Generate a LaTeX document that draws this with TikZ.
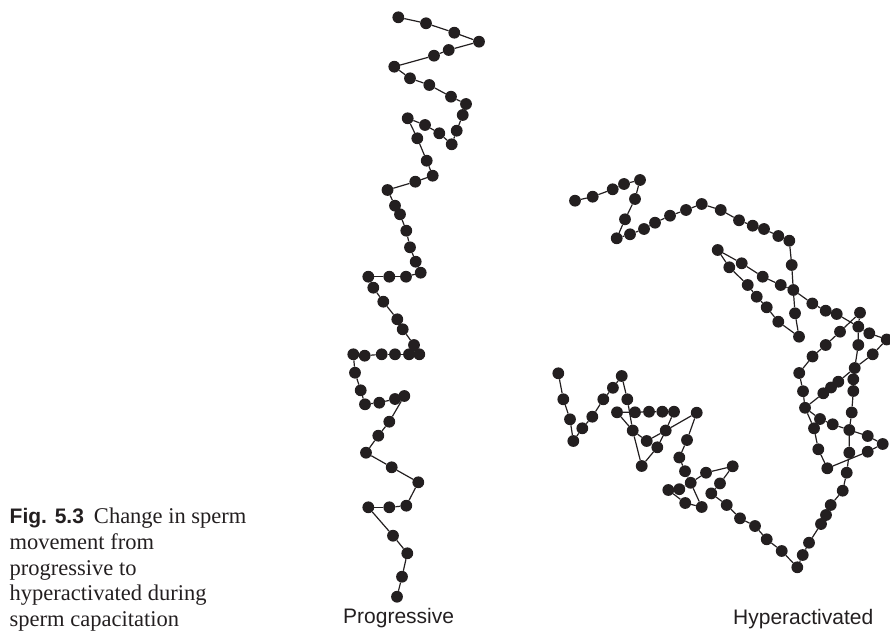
\documentclass[tikz,border=0pt]{standalone}
\usepackage{fontspec}
\setmainfont{Liberation Serif}
\newfontfamily\labfont{Liberation Sans}
\pgfdeclarelayer{bg}
\pgfsetlayers{bg,main}
\definecolor{ink}{HTML}{231F20}
\begin{document}
\begin{tikzpicture}[x=1pt,y=-1pt,
  dot/.style={circle,fill=ink,inner sep=0pt,minimum size=11.8pt},
  trk/.style={draw=ink,line width=1.2pt},
  captxt/.style={anchor=base west,inner sep=0pt,text=ink,font=\fontsize{22.5}{25.7}\selectfont},
  lab/.style={anchor=base west,inner sep=0pt,text=ink,font=\labfont\fontsize{21}{24}\selectfont}]
\useasboundingbox (0,0) rectangle (890,631);
% progressive track
\foreach \n/\x/\y in {P1/398.3/17.3,P2/426/23.3,P3/454.3/32.7,P4/479/41.7,P5/448.7/50,P6/434/55.7,P7/394.3/66.7,P8/410/78.3,P9/429.3/85,P10/451/96.7,
P11/466/104,P12/462.7/115,P13/456.7/130.7,P14/451.7/144.3,P15/439.3/133.3,P16/425/125,P17/407.7/118.3,P18/417.3/138.3,P19/426.7/160.7,P20/432.7/175.7,
P21/415.3/181.7,P22/387.5/190,P23/395/205.7,P24/400/214.3,P25/406.3/230.7,P26/410/247.3,P27/415.7/261.7,P28/420.7/272.7,P29/406/276.7,P30/389.3/276.7,
P31/368.3/276.7,P32/373.3/287.7,P33/383.3/301.7,P34/397.3/319.3,P35/402.7/329.3,P36/414/345,P37/419.3/354.3,P38/409/354.3,P39/395/354.3,P40/381.7/354.3,
P41/364.7/355.7,P42/353.3/354.3,P43/355/372.7,P44/360.7/390.3,P45/365/404.3,P46/379.3/402.7,P47/395/399,P48/404.3/396,P49/389.3/421.7,P50/378.3/435.7,
P51/366/452.7,P52/391.7/467.3,P53/418.3/482.3,P54/406.3/505.7,P55/389.3/507.3,P56/368.3/507.3,P57/393/535.7,P58/407.3/553.3,P59/402/576.7,P60/397/596.7}
  \node[dot] (\n) at (\x,\y) {};
% hyperactivated track
\foreach \n/\x/\y in {h1/575/200.7,h2/592.7/196.7,h3/612.7/189.3,h4/624/184,h5/640/180,h6/635/199,h7/625/219.3,h8/616.7/238.3,h9/630/234.3,h10/644/229,
h11/655/222.7,h12/670/215.7,h13/686/210,h14/701.7/204,h15/720.7/210,h16/739/220.3,h17/752.7/225.7,h18/764/229,h19/778.3/236,h20/789.3/240.7,
h21/791.7/265,h22/793.3/290,h23/795/313.3,h24/799/336.7,h25/778.3/321.7,h26/766.7/307.3,h27/756.7/296.7,h28/747.7/285,h29/729.3/267.3,h30/717.7/250,
h31/741.7/263.3,h32/762.7/276.7,h33/780.7/285,h34/812.3/303.5,h35/825.7/310.7,h36/836.7/314,h37/858.3/326.7,h38/869.3/333.3,h39/886.7/339.5,h40/872.7/354.3,
h41/854.7/368,h42/838.3/381.7,h43/831/387.5,h44/823.3/393.3,h45/805/407.8,h46/860/312.7,h47/840/331.7,h48/825.7/345,h49/812.5/356.5,h50/799.2/373,
h51/803/391.2,h52/858.3/345,h53/853.3/379.3,h54/853.3/391,h55/851.7/412.5,h56/849.3/430,h57/849.3/452.7,h58/846.7/472.7,h59/842.7/490.7,h60/830.7/505,
h61/826/515,h62/821/524,h63/809/542.7,h64/802.7/555,h65/797.3/567.3,h66/820/419,h67/832.7/424.3,h68/867.7/436,h69/882.7/444,h70/867.7/451.7,
h71/827.3/468.3,h72/818.3/449.3,h73/814/428.3,h74/781.7/551,h75/766.7/539.3,h76/755/526,h77/740/518.3,h78/726.7/505,h79/711.3/493.4,h80/720/483.4,
h81/732.7/466.3,h82/706/472.7,h83/690.7/482.8,h84/685/471.2,h85/679.3/457.5,h86/687/440,h87/696.7/412.7,h88/665.7/430.5,h89/679.3/489.2,h90/668.3/490,
h91/685.2/503,h92/701.7/507,h93/657.3/447.3,h94/641.7/466,h95/632.7/430.5,h96/627.3/399.3,h97/621.7/376,h98/612.9/387.8,h99/603.3/399.3,h100/592.3/416.7,
h101/582.3/428.3,h102/573.3/441,h103/570/419.3,h104/563.3/399.3,h105/558.3/373.3,h106/674/411.7,h107/662.3/411.7,h108/649/411.7,h109/635/412.3,h110/617/412.3,
h111/646.7/441}
  \node[dot] (\n) at (\x,\y) {};
\begin{pgfonlayer}{bg}
\foreach \i [evaluate=\i as \j using int(\i+1)] in {1,...,59}
  \draw[trk] (P\i) -- (P\j);
\draw[trk] (h1)--(h2)--(h3)--(h4)--(h5)--(h6)--(h7)--(h8)--(h9)--(h10)--(h11)--(h12)--(h13)--(h14)--(h15)--(h16)--(h17)--(h18)--(h19)--(h20)
  --(h21)--(h22)--(h23)--(h24)--(h25)--(h26)--(h27)--(h28)--(h29)--(h30)--(h31)--(h32)--(h33)--(h22)--(h34)--(h35)--(h36)--(h37)--(h38)--(h39)
  --(h40)--(h41)--(h42)--(h43)--(h44)--(h45);
\draw[trk] (h46)--(h47)--(h48)--(h49)--(h50)--(h51)--(h45);
\draw[trk] (h46)--(h37)--(h52)--(h41)--(h53)--(h54)--(h55)--(h56)--(h57)--(h58)--(h59)--(h60)--(h61)--(h62)--(h63)--(h64)--(h65);
\draw[trk] (h45)--(h66)--(h67)--(h56)--(h68)--(h69)--(h70)--(h71)--(h72)--(h73)--(h45);
\draw[trk] (h65)--(h74)--(h75)--(h76)--(h77)--(h78)--(h79)--(h80)--(h81)--(h82)--(h83)--(h84)--(h85)--(h86)--(h87)--(h88);
\draw[trk] (h83)--(h89)--(h90)--(h91)--(h92)--(h83);
\draw[trk] (h88)--(h93)--(h94)--(h95)--(h96)--(h97)--(h98)--(h99)--(h100)--(h101)--(h102)--(h103)--(h104)--(h105);
\draw[trk] (h88)--(h106)--(h107)--(h108)--(h109)--(h110)--(h95)--(h111)--(h88);
\end{pgfonlayer}
% labels
\node[lab] (lprog) at (343,623) {Progressive};
\node[lab] (lhyp) at (733,624) {Hyperactivated};
% caption
\node[captxt] (cap1) at (9.5,523.5) {{\labfont\bfseries\fontsize{21}{24}\selectfont Fig. 5.3}\hspace{10pt}Change in sperm};
\node[captxt] (cap2) at (9.5,549.3) {movement from};
\node[captxt] (cap3) at (9.5,575.1) {progressive to};
\node[captxt] (cap4) at (9.5,600.9) {hyperactivated during};
\node[captxt] (cap5) at (9.5,626.6) {sperm capacitation};
\end{tikzpicture}
\end{document}
